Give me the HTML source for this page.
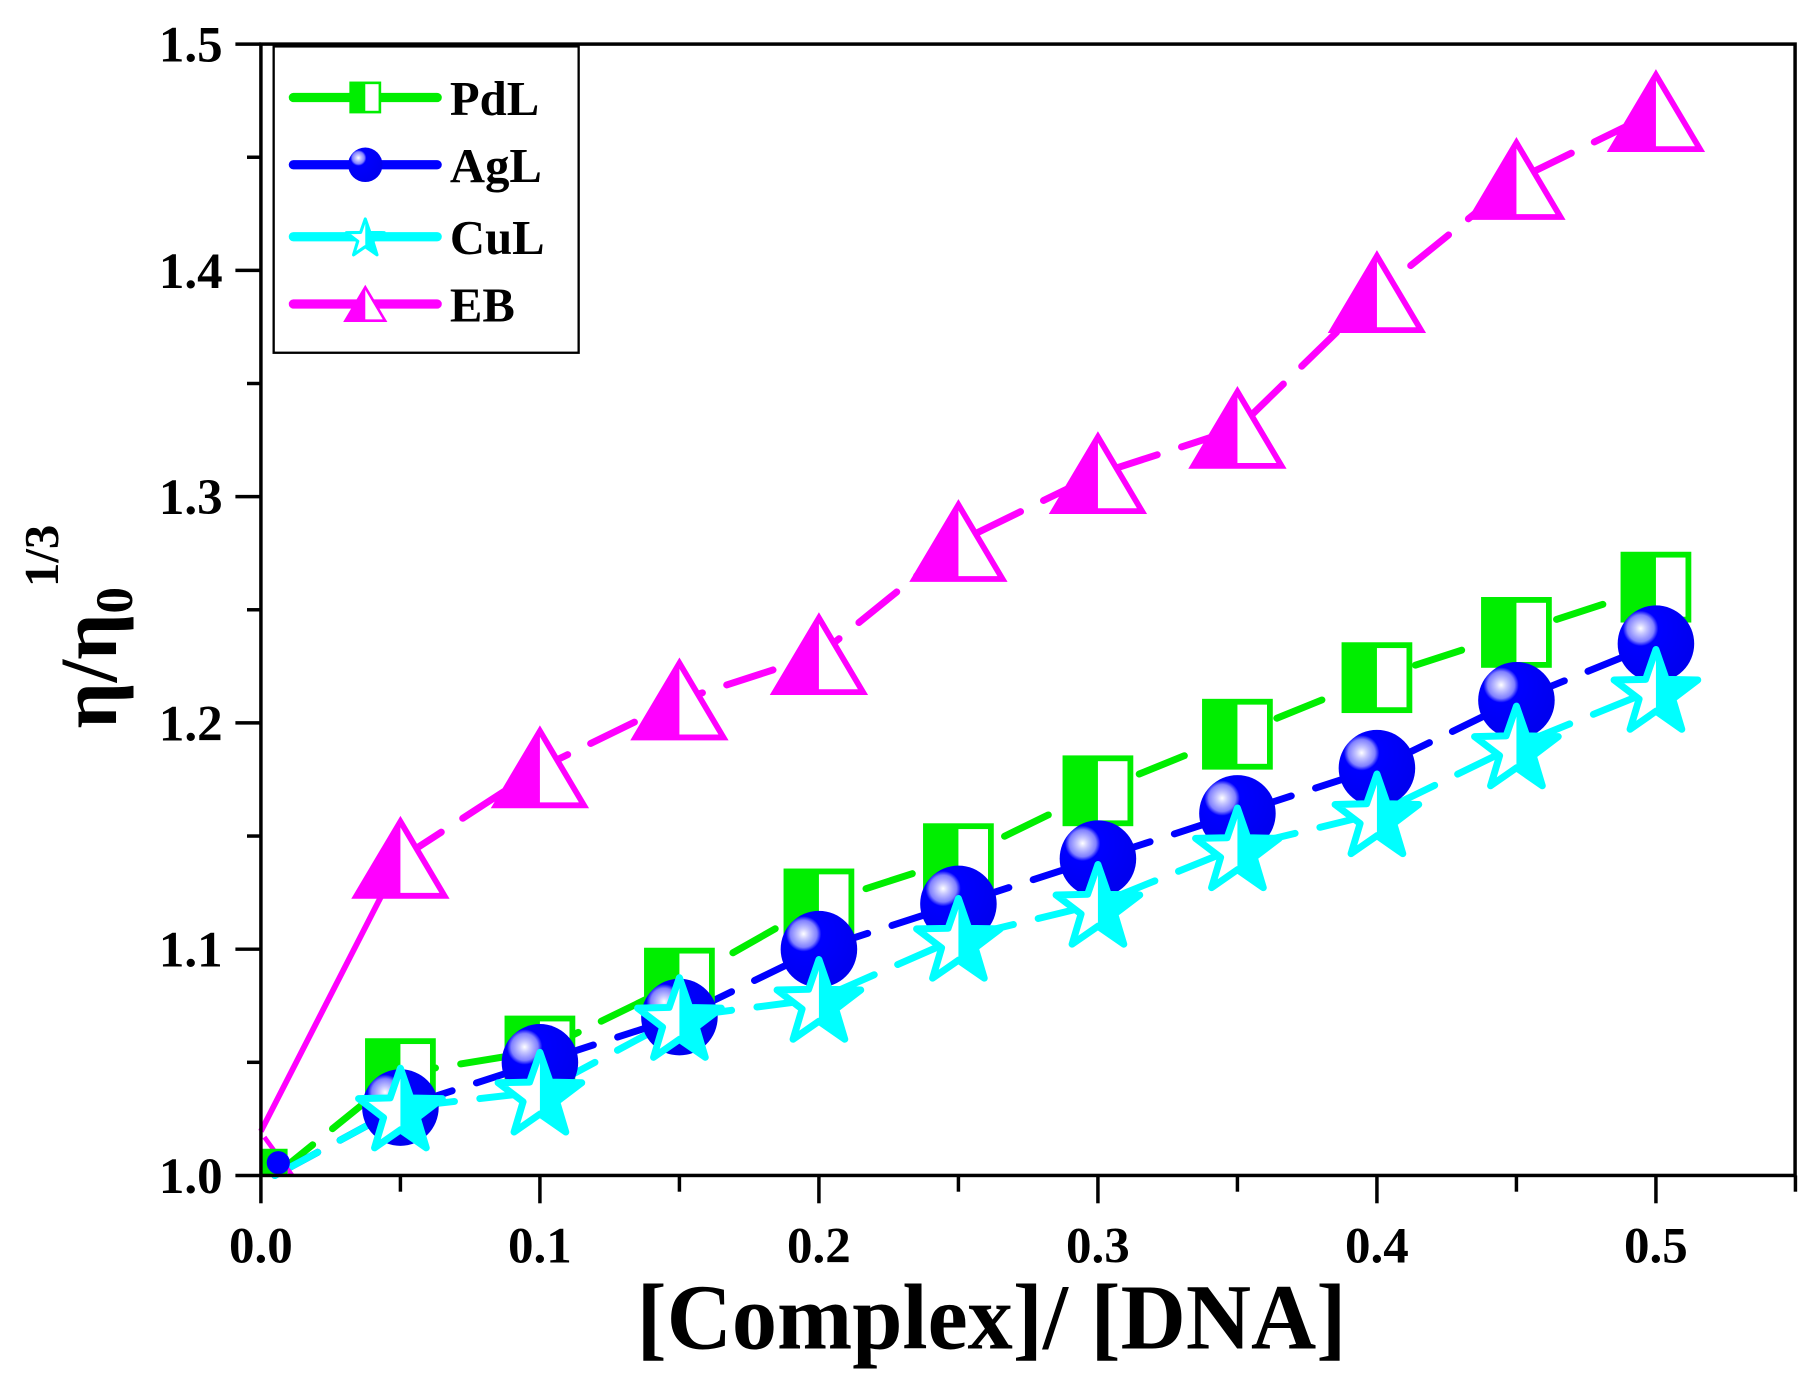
<!DOCTYPE html>
<html><head><meta charset="utf-8"><style>
html,body{margin:0;padding:0;background:#fff;}
svg{display:block;}
text{font-family:"Liberation Serif",serif;font-weight:bold;fill:#000;}
</style></head><body>
<svg id="s" width="1809" height="1382" viewBox="0 0 1560 1191" preserveAspectRatio="none" xmlns="http://www.w3.org/2000/svg">
<defs>
<radialGradient id="hl" cx="0.3" cy="0.3" r="0.7">
<stop offset="0" stop-color="#fff"/><stop offset="0.1" stop-color="#c8c8ff"/><stop offset="0.25" stop-color="#8080ff"/><stop offset="0.33" stop-color="#0000ff"/><stop offset="1" stop-color="#0000f0"/>
</radialGradient>
</defs>
<rect x="0" y="0" width="1560" height="1191" fill="#fff"/>
<g id="plot"></g>
<rect x="225" y="38" width="1323" height="975" fill="none" stroke="#000" stroke-width="3"/>
<g id="ticks" stroke="#000" stroke-width="3"></g>
<g id="labels" font-size="44"></g>
<text x="855" y="1162" font-size="80" text-anchor="middle" textLength="612" lengthAdjust="spacingAndGlyphs">[Complex]/ [DNA]</text>
<g transform="translate(100,540) rotate(-90)">
<text x="0" y="0" font-size="70" text-anchor="middle">η/η<tspan font-size="46" dy="14">0</tspan><tspan font-size="42" dy="-64">1/3</tspan></text>
</g>
<rect x="236" y="40" width="263" height="264" fill="#fff" stroke="#000" stroke-width="2"/>
<g id="leg" font-size="42"></g>
</svg>
<script>
const NS="http://www.w3.org/2000/svg";
function el(p,t,a){const e=document.createElementNS(NS,t);for(const k in a)e.setAttribute(k,a[k]);p.appendChild(e);return e;}
const X=v=>225+v*2406, Y=v=>1013-(v-1)*1950;
const xs=[0.005,0.05,0.1,0.15,0.2,0.25,0.3,0.35,0.4,0.45,0.5];
const S={
EB:{c:"#ff00ff",y:[1.0,1.14,1.18,1.21,1.23,1.28,1.31,1.33,1.39,1.44,1.47],m:"tri"},
PdL:{c:"#00ee00",y:[1.0,1.045,1.055,1.085,1.12,1.14,1.17,1.195,1.22,1.24,1.26],m:"sq"},
AgL:{c:"#0000ff",y:[1.0,1.03,1.05,1.07,1.10,1.12,1.14,1.16,1.18,1.21,1.235],m:"ci"},
CuL:{c:"#00ffff",y:[1.0,1.03,1.037,1.07,1.078,1.105,1.12,1.145,1.16,1.19,1.215],m:"st"}};
const plot=document.getElementById("plot");
function starPts(cx,cy,R){const r=R*0.4;let p=[];for(let i=0;i<10;i++){const a=-Math.PI/2+i*Math.PI/5;const rr=i%2?r:R;p.push((cx+rr*Math.cos(a)).toFixed(1)+","+(cy+rr*Math.sin(a)).toFixed(1));}return p.join(" ");}
let cid=0;
function marker(g,m,c,cx,cy,sc){
 sc=sc||1;
 if(m=="sq"){const h=28*sc;el(g,"rect",{x:cx-h,y:cy-h,width:2*h,height:2*h,fill:"#fff",stroke:c,"stroke-width":5*sc});el(g,"rect",{x:cx-h,y:cy-h,width:h,height:2*h,fill:c});}
 if(m=="ci"){const r=33*sc;el(g,"circle",{cx,cy,r,fill:"url(#hl)"});}
 if(m=="st"){const R=38*sc;const id="c"+(cid++);const cp=el(g,"clipPath",{id});el(cp,"rect",{x:cx,y:cy-R-5,width:R+10,height:2*R+10});
  const pts=starPts(cx,cy+4*sc,R);el(g,"polygon",{points:pts,fill:"#fff",stroke:c,"stroke-width":6*sc,"stroke-linejoin":"round"});el(g,"polygon",{points:pts,fill:c,"clip-path":"url(#"+id+")"});}
 if(m=="tri"){const w=38*sc,h=32*sc;const pts=`${cx},${cy-h} ${cx+w},${cy+h} ${cx-w},${cy+h}`;el(g,"polygon",{points:pts,fill:"#fff",stroke:c,"stroke-width":5*sc,"stroke-linejoin":"miter"});el(g,"polygon",{points:`${cx},${cy-h} ${cx},${cy+h} ${cx-w},${cy+h}`,fill:c});}
}
for(const k in S){const s=S[k];const st=k=="EB"?1:0;let d=s.y.slice(st).map((v,i)=>(i?"L":"M")+X(xs[i+st]).toFixed(1)+","+Y(v).toFixed(1)).join(" ");
 el(plot,"path",{d,fill:"none",stroke:s.c,"stroke-width":6,"stroke-dasharray":"42 22","stroke-linecap":"round"});}
el(plot,"line",{x1:225,y1:975,x2:X(0.05),y2:Y(1.14),stroke:"#ff00ff","stroke-width":5});
el(plot,"line",{x1:228,y1:980,x2:252,y2:1013,stroke:"#ff00ff","stroke-width":4});
for(const k in S){const s=S[k];s.y.forEach((v,i)=>{if(i==0)return;marker(plot,s.m,s.c,X(xs[i]),Y(v));});}
el(plot,"rect",{x:226,y:990,width:22,height:22,fill:"#00ee00"});
el(plot,"circle",{cx:240,cy:1002,r:10,fill:"#0000ff"});
const tk=document.getElementById("ticks"),lb=document.getElementById("labels");
for(let i=0;i<=11;i++){const x=225+i*0.05*2406;if(x>1549)break;const L=i%2?14:24;el(tk,"line",{x1:x,y1:1013,x2:x,y2:1013+L});
 if(i%2==0){const t=el(lb,"text",{x,y:1088,"text-anchor":"middle"});t.textContent=(i*0.05).toFixed(1);}}
for(let i=0;i<=10;i++){const y=1013-i*0.05*1950;const L=i%2?12:22;el(tk,"line",{x1:225,y1:y,x2:225-L,y2:y});
 if(i%2==0){const t=el(lb,"text",{x:192,y:y+15,"text-anchor":"end"});t.textContent=(1+i*0.05).toFixed(1);}}
const lg=document.getElementById("leg");const names=["PdL","AgL","CuL","EB"],ly=[84,142,204,262];
names.forEach((n,i)=>{const s=S[n];el(lg,"line",{x1:253,y1:ly[i],x2:377,y2:ly[i],stroke:s.c,"stroke-width":8,"stroke-linecap":"round"});
 marker(lg,s.m,s.c,315,ly[i],0.45);const t=el(lg,"text",{x:388,y:ly[i]+15});t.textContent=n;});
</script>
</body></html>
